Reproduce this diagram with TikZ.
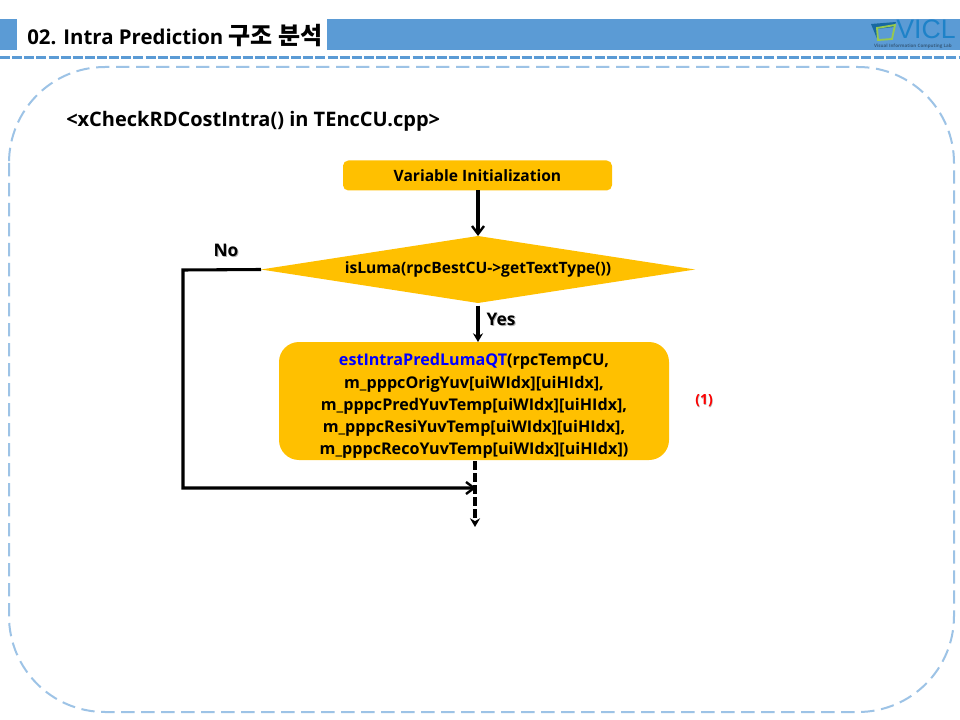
\documentclass[tikz,border=0pt]{standalone}
\usepackage{fontspec}
\setmainfont{Open Sans}
\newfontfamily\krfont{Noto Sans CJK KR}
\newfontfamily\logofont{Liberation Sans}
\usetikzlibrary{shapes.geometric,arrows.meta}

\tikzset{
    flowbox/.style={fill=boxcolor, text=black, align=center, font=\bfseries\fontsize{11.7}{16.7}\selectfont, inner sep=0pt, outer sep=0pt},
    flowline/.style={line width=2.3pt, black},
    headarrow/.style={-{Straight Barb[length=6pt,width=9pt,line width=1.8pt]}},
    smallhead/.style={-{Stealth[length=6.5pt,width=7.5pt]}},
    shadowlabel/.style={text=black!30, font=\bfseries\fontsize{13}{15}\selectfont},
    plainlabel/.style={text=black, font=\bfseries\fontsize{13}{15}\selectfont}
}

\begin{document}
\begin{tikzpicture}[x=0.75pt, y=-0.75pt]
    % Slide colors
    \definecolor{bandcolor}{RGB}{91, 155, 213}
    \definecolor{framecolor}{RGB}{157, 195, 230}
    \definecolor{boxcolor}{RGB}{255, 192, 0}
    \definecolor{logoblue}{RGB}{30, 130, 200}
    \definecolor{logogreen}{RGB}{150, 200, 80}

    \useasboundingbox (0,0) rectangle (960,720);
    \fill[white] (0,0) rectangle (960,720);

    % Title band
    \fill[bandcolor] (0,19) rectangle (17,50);
    \fill[bandcolor] (327,19) rectangle (960,50);
    \draw[bandcolor, line width=2.2pt, dash pattern=on 7.5pt off 1.6pt] (0,57.5) -- (960,57.5);
    \node[anchor=west, inner sep=0pt, font=\bfseries\fontsize{15.3}{18}\selectfont] (title) at (27,35.5) {02. Intra Prediction {\krfont\fontsize{18}{18}\selectfont 구조 분석}};

    % Logo
    \fill[logoblue!80!black] (871,24) -- (896,22) -- (894,27) -- (877,29) -- (878,41) -- cycle;
    \draw[logogreen, line width=1.4pt] (877,28) -- (895,25) -- (892,39) -- (878,40) -- cycle;
    \node[inner sep=0pt, text=logoblue, text height=14pt, text depth=0pt, font=\logofont\fontsize{20}{20}\selectfont] (logoname) at (926,29.5) {VICL};
    \node[inner sep=0pt, text=bandcolor!60!black, text height=3pt, text depth=0pt, font=\bfseries\fontsize{3.4}{4}\selectfont] (logotext) at (913,46) {Visual Information Computing Lab};

    % Dashed frame of the slide body
    \draw[framecolor, line width=1.5pt, dash pattern=on 10pt off 5pt, rounded corners=72pt] (9,67) rectangle (954,712);

    \node[anchor=west, inner sep=0pt, font=\bfseries\fontsize{15}{18}\selectfont] (caption) at (66,121) {<xCheckRDCostIntra() in TEncCU.cpp>};

    % Flowchart boxes
    \node[flowbox, rounded corners=4pt, minimum width=201.75pt, minimum height=22.5pt] (init) at (477.5,175.5) {Variable Initialization};
    \node[flowbox, diamond, aspect=6.5, minimum width=325.5pt, minimum height=50.25pt] (decide) at (478,269.5) {isLuma(rpcBestCU->getTextType())};
    \node[flowbox, rounded corners=15pt, minimum width=292.5pt, minimum height=88.5pt, font=\bfseries\fontsize{12.1}{16.7}\selectfont] (intra) at (474,401) {\rule{0pt}{17pt}\textcolor{blue}{estIntraPredLumaQT}(rpcTempCU,\\
        m\_pppcOrigYuv[uiWIdx][uiHIdx],\\
        m\_pppcPredYuvTemp[uiWIdx][uiHIdx],\\
        m\_pppcResiYuvTemp[uiWIdx][uiHIdx],\\
        m\_pppcRecoYuvTemp[uiWIdx][uiHIdx])};

    % Free ends of the connectors
    \coordinate (turntop) at (183,270);
    \coordinate (turnbot) at (183,488);
    \coordinate (merge) at (476,488);
    \coordinate (exit) at (475,527);

    % Connectors
    \draw[flowline, headarrow] (init.south -| decide.north) -- (decide.north);
    \draw[flowline, smallhead, shorten <=2pt] (decide.south) -- (decide.south |- intra.north);
    \draw[flowline, headarrow] (decide.west) -- (turntop) -- (turnbot) -- (merge);
    \draw[flowline, smallhead, dash pattern=on 6.5pt off 2.5pt, shorten <=1pt] (exit |- intra.south) -- (exit);

    % Labels with their soft shadow
    \node[shadowlabel, inner sep=0pt] (noshade) at (227,251.5) {No};
    \node[plainlabel, inner sep=0pt] (nolabel) at (226,250) {No};
    \node[shadowlabel, inner sep=0pt] (yesshade) at (502,320.5) {Yes};
    \node[plainlabel, inner sep=0pt] (yeslabel) at (501,319) {Yes};
    \node[text=black!30, inner sep=0pt, font=\bfseries\fontsize{10.5}{11}\selectfont] (markshade) at (704.5,401.5) {(1)};
    \node[text=red, inner sep=0pt, font=\bfseries\fontsize{10.5}{11}\selectfont] (marklabel) at (704,400.5) {(1)};
\end{tikzpicture}
\end{document}
